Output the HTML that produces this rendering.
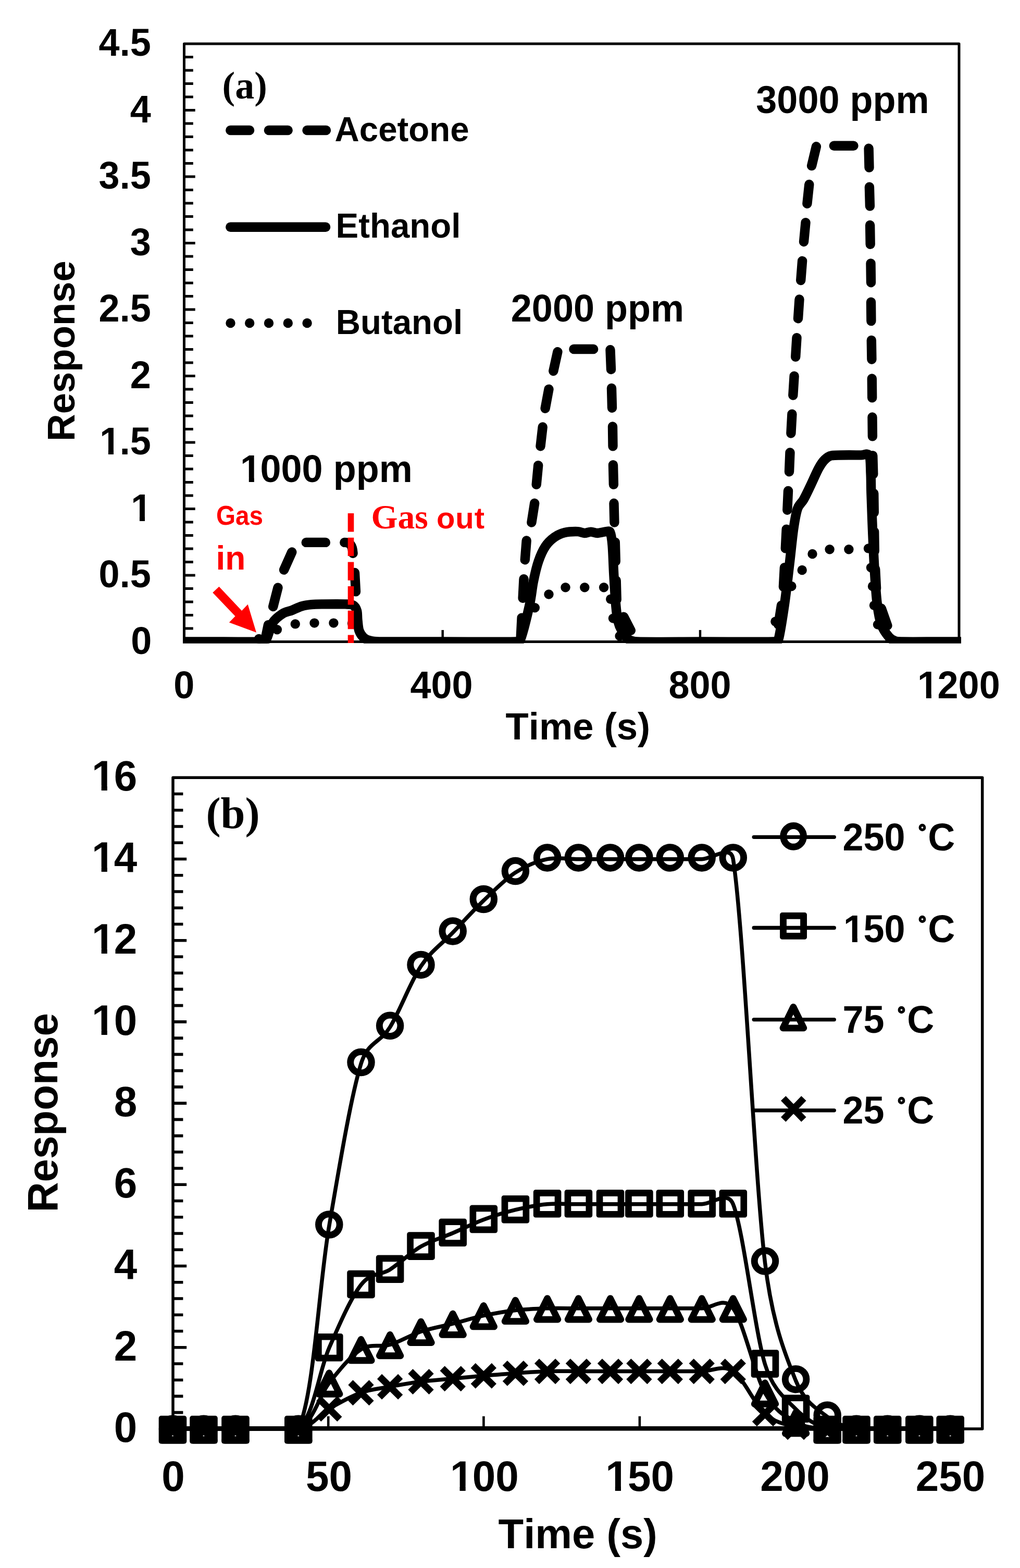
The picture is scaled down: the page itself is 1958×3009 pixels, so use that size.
<!DOCTYPE html>
<html lang="en"><head><meta charset="utf-8"><title>Gas sensor response</title>
<style>html,body{margin:0;padding:0;background:#fff;}body{width:1958px;height:3009px;overflow:hidden;}svg{display:block;}text{white-space:pre;font-kerning:none;}</style>
</head><body>
<svg width="1958" height="3009" viewBox="0 0 1958 3009">
<rect x="0" y="0" width="1958" height="3009" fill="#fff"/>
<defs><clipPath id="one"><path d="M-6,-90 H62 V-11.6 H37.3 V3 H23.1 V-11.6 H-6 Z"/></clipPath></defs>
<defs><clipPath id="clipA"><rect x="351" y="81.5" width="1494" height="1153.2"/></clipPath></defs>
<g id="chartA">
<rect x="353.5" y="84" width="1487.5" height="1147.5" fill="none" stroke="#000" stroke-width="5" stroke-linejoin="round"/>
<path d="M353.5,1206 H370.8 M353.5,1180.5 H370.8 M353.5,1155 H370.8 M353.5,1129.5 H370.8 M353.5,1104 H374.7 M353.5,1078.5 H370.8 M353.5,1053 H370.8 M353.5,1027.5 H370.8 M353.5,1002 H370.8 M353.5,976.5 H374.7 M353.5,951 H370.8 M353.5,925.5 H370.8 M353.5,900 H370.8 M353.5,874.5 H370.8 M353.5,849 H374.7 M353.5,823.5 H370.8 M353.5,798 H370.8 M353.5,772.5 H370.8 M353.5,747 H370.8 M353.5,721.5 H374.7 M353.5,696 H370.8 M353.5,670.5 H370.8 M353.5,645 H370.8 M353.5,619.5 H370.8 M353.5,594 H374.7 M353.5,568.5 H370.8 M353.5,543 H370.8 M353.5,517.5 H370.8 M353.5,492 H370.8 M353.5,466.5 H374.7 M353.5,441 H370.8 M353.5,415.5 H370.8 M353.5,390 H370.8 M353.5,364.5 H370.8 M353.5,339 H374.7 M353.5,313.5 H370.8 M353.5,288 H370.8 M353.5,262.5 H370.8 M353.5,237 H370.8 M353.5,211.5 H374.7 M353.5,186 H370.8 M353.5,160.5 H370.8 M353.5,135 H370.8 M353.5,109.5 H370.8" stroke="#000" stroke-width="5" fill="none"/>
<path d="M849.7,1231.5 V1209 M1344,1231.5 V1209" stroke="#000" stroke-width="4.4" fill="none"/>
<g transform="translate(251.16,1254.6) scale(1,1.03)"><text x="0" y="0" font-family='"Liberation Sans", sans-serif' font-size="72" font-weight="bold" fill="#000">0</text></g>
<g transform="translate(189.61,1127.1) scale(1,1.03)"><text x="0" y="0" font-family='"Liberation Sans", sans-serif' font-size="72" font-weight="bold" fill="#000">0.5</text></g>
<clipPath id="k1"><path clip-rule="evenodd" d="M-30,-93.6 H300.04 V43.2 H-30 Z M4.64,-8.36 H18.3 V4.32 H4.64 Z M28.38,-8.36 H41.14 V4.32 H28.38 Z"/></clipPath>
<g transform="translate(249.66,999.6) scale(1,1.03)"><text x="1.6" clip-path="url(#k1)" y="0" font-family='"Liberation Sans", sans-serif' font-size="72" font-weight="bold" fill="#000">1</text></g>
<clipPath id="k2"><path clip-rule="evenodd" d="M-30,-93.6 H360.09 V43.2 H-30 Z M4.64,-8.36 H18.3 V4.32 H4.64 Z M28.38,-8.36 H41.14 V4.32 H28.38 Z"/></clipPath>
<g transform="translate(189.61,872.1) scale(1,1.03)"><text x="1.6 40.04 60.05" clip-path="url(#k2)" y="0" font-family='"Liberation Sans", sans-serif' font-size="72" font-weight="bold" fill="#000">1.5</text></g>
<g transform="translate(249.66,744.6) scale(1,1.03)"><text x="0" y="0" font-family='"Liberation Sans", sans-serif' font-size="72" font-weight="bold" fill="#000">2</text></g>
<g transform="translate(189.61,617.1) scale(1,1.03)"><text x="0" y="0" font-family='"Liberation Sans", sans-serif' font-size="72" font-weight="bold" fill="#000">2.5</text></g>
<g transform="translate(249.66,489.6) scale(1,1.03)"><text x="0" y="0" font-family='"Liberation Sans", sans-serif' font-size="72" font-weight="bold" fill="#000">3</text></g>
<g transform="translate(189.61,362.1) scale(1,1.03)"><text x="0" y="0" font-family='"Liberation Sans", sans-serif' font-size="72" font-weight="bold" fill="#000">3.5</text></g>
<g transform="translate(249.66,234.6) scale(1,1.03)"><text x="0" y="0" font-family='"Liberation Sans", sans-serif' font-size="72" font-weight="bold" fill="#000">4</text></g>
<g transform="translate(189.61,107.1) scale(1,1.03)"><text x="0" y="0" font-family='"Liberation Sans", sans-serif' font-size="72" font-weight="bold" fill="#000">4.5</text></g>
<g transform="translate(333.28,1340.4) scale(1,1.03)"><text x="0" y="0" font-family='"Liberation Sans", sans-serif' font-size="72" font-weight="bold" fill="#000">0</text></g>
<g transform="translate(787.54,1340.4) scale(1,1.03)"><text x="0" y="0" font-family='"Liberation Sans", sans-serif' font-size="72" font-weight="bold" fill="#000">400</text></g>
<g transform="translate(1283.44,1340.4) scale(1,1.03)"><text x="0" y="0" font-family='"Liberation Sans", sans-serif' font-size="72" font-weight="bold" fill="#000">800</text></g>
<clipPath id="k3"><path clip-rule="evenodd" d="M-30,-93.6 H420.17 V43.2 H-30 Z M4.64,-8.36 H18.3 V4.32 H4.64 Z M28.38,-8.36 H41.14 V4.32 H28.38 Z"/></clipPath>
<g transform="translate(1759.51,1340.4) scale(1,1.03)"><text x="1.6 40.04 80.09 120.13" clip-path="url(#k3)" y="0" font-family='"Liberation Sans", sans-serif' font-size="72" font-weight="bold" fill="#000">1200</text></g>
<g transform="translate(970.61,1419.2) scale(1,1.01)"><text x="0" y="0" font-family='"Liberation Sans", sans-serif' font-size="72.4" font-weight="bold" fill="#000">Time (s)</text></g>
<g transform="translate(143,673.4) rotate(-90)">
<g transform="translate(-173.25,0) scale(1,1.01)"><text x="0" y="0" font-family='"Liberation Sans", sans-serif' font-size="72.5" font-weight="bold" fill="#000">Response</text></g>
</g>
<g clip-path="url(#clipA)" fill="none" stroke="#000" stroke-width="18.4" stroke-linecap="round" stroke-linejoin="round">
<path d="M353.5,1231.5 C353.5,1231.5 405.58,1231.5 430,1231.5 C454.42,1231.5 486.5,1232.15 500,1231.5 C504.66,1231.28 508.48,1231.53 511,1227.6 C514.9,1221.53 518.23,1203.37 523.4,1195.1 C528.57,1186.83 535.8,1182 542,1178 C548.2,1174 554.4,1173.55 560.6,1171.1 C566.8,1168.65 573,1165.12 579.2,1163.3 C585.4,1161.48 591.1,1160.85 597.8,1160.2 C604.5,1159.55 610.75,1159.51 619.4,1159.4 C630.23,1159.27 653.03,1159.05 662.8,1159.4 C668.93,1159.62 674.3,1159.4 678,1161.5 C681.7,1163.6 683.58,1167.18 685,1172 C686.42,1176.82 685.75,1183.97 686.5,1190.4 C687.25,1196.83 687.58,1205.08 689.5,1210.6 C691.42,1216.12 694.52,1220.35 698,1223.5 C701.48,1226.65 705.4,1228.17 710.4,1229.5 C715.4,1230.83 720.92,1231.4 728,1231.5 C751.27,1231.83 806.33,1231.5 850,1231.5 C893.67,1231.5 965.22,1232.03 990,1231.5 C993.71,1231.42 997.39,1231.77 998.7,1228.3 C1003.07,1216.78 1012,1181.13 1016.2,1162.4 C1020.32,1144 1021,1130.1 1023.9,1115.9 C1026.8,1101.7 1029.72,1088.5 1033.6,1077.2 C1037.48,1065.9 1042.03,1055.85 1047.2,1048.1 C1052.37,1040.35 1058.47,1035.05 1064.6,1030.7 C1070.73,1026.35 1076.58,1023.77 1084,1022 C1091.42,1020.23 1102.82,1019.93 1109.1,1020.1 C1114.27,1020.24 1117.5,1022.92 1121.7,1023 C1125.9,1023.08 1130.1,1020.6 1134.3,1020.6 C1138.5,1020.6 1142.05,1023.08 1146.9,1023 C1151.75,1022.92 1159.37,1020.43 1163.4,1020.1 C1166.49,1019.84 1169.8,1018.19 1171.1,1021 C1173.12,1025.35 1174.61,1036.01 1175.5,1046.2 C1176.72,1060.08 1177.27,1084.93 1178.4,1104.3 C1179.53,1123.67 1181,1147.87 1182.3,1162.4 C1183.35,1174.1 1184.27,1183.43 1186.2,1191.5 C1188.13,1199.57 1190.68,1205 1193.9,1210.8 C1197.12,1216.6 1200.57,1222.85 1205.5,1226.3 C1210.43,1229.75 1216.01,1231.23 1223.5,1231.5 C1247.58,1232.37 1306.42,1231.5 1350,1231.5 C1393.58,1231.5 1460.97,1232.13 1485,1231.5 C1488.98,1231.4 1493.08,1231.52 1494.2,1227.7 C1497.68,1215.77 1502.35,1184.12 1505.9,1159.9 C1509.45,1135.68 1512.6,1106.62 1515.5,1082.4 C1518.4,1058.18 1520.72,1032.35 1523.3,1014.6 C1525.57,998.98 1527.77,985.25 1531,975.9 C1533.74,967.97 1538.57,965.8 1542.7,958.5 C1546.9,951.07 1551.37,941.32 1556.2,931.3 C1561.03,921.28 1567.18,906.62 1571.7,898.4 C1575.57,891.36 1579.1,886.03 1583.3,882 C1587.5,877.97 1590.68,874.97 1596.9,874.2 C1608.52,872.77 1641.07,873.4 1653,873.4 C1659.21,873.4 1665.58,868.72 1668.5,874.2 C1671.58,879.98 1670.85,896 1671.5,908.1 C1672.15,920.2 1671.89,931.32 1672.4,946.8 C1673.03,966.17 1674.17,998.47 1675.3,1024.3 C1676.43,1050.13 1677.75,1079.2 1679.2,1101.8 C1680.65,1124.4 1681.9,1143.77 1684,1159.9 C1686.04,1175.56 1688.05,1188.17 1691.8,1198.6 C1695.55,1209.03 1702.13,1217.27 1706.5,1222.5 C1710.02,1226.72 1713.75,1228.5 1718,1230 C1722.25,1231.5 1726.37,1231.4 1732,1231.5 C1745.67,1231.75 1781,1231.5 1800,1231.5 C1818.4,1231.5 1846,1231.5 1846,1231.5"/>
<path d="M505,1231 L509.4,1226.1 M509.4,1226.1 L514.9,1199.3 M524.2,1164.1 L533.5,1127.7 M545.1,1093.6 L560.3,1059.5 M587.7,1040.9 L624.9,1040.9 M681,1099 L683,1135.4 M1029.7,929.9 L1033.2,893.1 M1037.5,856.3 L1041.7,819.5 M1046.6,783.7 L1053.5,746.9 M1062.3,712 L1070.4,675.2 M1101.4,670 L1139.2,670 M1171.5,671.3 L1173,709.1 M1174,744.9 L1175,782.7 M1176,818.5 L1176.5,856.3 M1177,892.1 L1177.9,929.9 M1026.2,965.8 L1020.4,1002.6 M1010.7,1037.5 L1007.8,1074.3 M1005.5,1111.1 L1003.6,1147.9 M1001.6,1185.7 L999.7,1222.5 M1178.5,965.8 L1179.4,1002.6 M1180.8,1040.4 L1181.8,1077.2 M1182.7,1114 L1183.7,1150.8 M1197.3,1183.7 L1210.8,1209.9 M1566.9,281.3 L1558.1,318.1 M1553.3,354 L1549.4,390.8 M1546.5,427.2 L1543,464 M1540.1,500.8 L1537.2,538 M1600.8,279.8 L1638.5,279.8 M1667.6,284.8 L1668.5,321.6 M1668.9,358.8 L1669.9,395.6 M1670.1,432 L1670.7,468.8 M1671.5,505.4 L1672,542.2 M1534.5,574.5 L1532,611.3 M1529.5,648.1 L1527.2,684.9 M1524.6,721.7 L1522.3,758.5 M1520.4,794.7 L1518.4,831.5 M1672,579.7 L1672.4,616.1 M1672.8,652.9 L1673.4,689.7 M1673.8,726.5 L1674.2,763.3 M1674.5,800.5 L1674.9,837.3 M1516.5,868.4 L1515,905.2 M1513,942 L1511.3,978.8 M1509.7,1015.6 L1507.8,1052.4 M1505.9,1089.2 L1503.9,1126 M1500,1161.8 L1494.2,1198.6 M1675.3,874.2 L1676.3,910 M1677.3,946.8 L1677.8,983.6 M1678.2,1020.4 L1678.8,1057.2 M1680.2,1092.1 L1682.1,1128.9 M1691.8,1167.6 L1703.4,1200.6 M661.3,1040.9 C672,1040.9 676.5,1046 677.6,1061.8"/>
</g>
<g fill="#000" clip-path="url(#clipA)">
<circle cx="531.9" cy="1208.3" r="9.2"/>
<circle cx="566.8" cy="1197.4" r="9.2"/>
<circle cx="603.5" cy="1195.6" r="9.2"/>
<circle cx="640.4" cy="1195.6" r="9.2"/>
<circle cx="676" cy="1196" r="9.2"/>
<circle cx="1026.8" cy="1166.3" r="9.2"/>
<circle cx="1053.5" cy="1140.5" r="9.2"/>
<circle cx="1085.5" cy="1127.2" r="9.2"/>
<circle cx="1122.3" cy="1127.2" r="9.2"/>
<circle cx="1159.1" cy="1127.2" r="9.2"/>
<circle cx="1172.2" cy="1149.8" r="9.2"/>
<circle cx="1177" cy="1186.6" r="9.2"/>
<circle cx="1189.6" cy="1220.5" r="9.2"/>
<circle cx="1488.4" cy="1192.8" r="9.2"/>
<circle cx="1519.4" cy="1125" r="9.2"/>
<circle cx="1539.7" cy="1094" r="9.2"/>
<circle cx="1559.5" cy="1063" r="9.2"/>
<circle cx="1592.6" cy="1054.3" r="9.2"/>
<circle cx="1629.4" cy="1054.3" r="9.2"/>
<circle cx="1667" cy="1052.4" r="9.2"/>
<circle cx="1672" cy="1089.2" r="9.2"/>
<circle cx="1675" cy="1125" r="9.2"/>
<circle cx="1678" cy="1161.8" r="9.2"/>
<circle cx="1685" cy="1198.6" r="9.2"/>
<circle cx="497" cy="1226" r="9.2"/>
</g>
<g fill="none" stroke="#000" stroke-width="18.4" stroke-linecap="round">
<path d="M442.3,250 H626" stroke-dasharray="36.8 36.8"/>
<path d="M442.3,435.7 H625.1"/>
</g>
<g fill="#000">
<circle cx="442.5" cy="620" r="9.2"/>
<circle cx="479.2" cy="620" r="9.2"/>
<circle cx="516" cy="620" r="9.2"/>
<circle cx="552.8" cy="620" r="9.2"/>
<circle cx="589.6" cy="620" r="9.2"/>
</g>
<g transform="translate(642.6,271.1) scale(1,1.01)"><text x="0" y="0" font-family='"Liberation Sans", sans-serif' font-size="65.4" font-weight="bold" fill="#000">Acetone</text></g>
<g transform="translate(644.6,456.3) scale(1,1.01)"><text x="0" y="0" font-family='"Liberation Sans", sans-serif' font-size="65.4" font-weight="bold" fill="#000">Ethanol</text></g>
<g transform="translate(644.8,640.6) scale(1,1.01)"><text x="0" y="0" font-family='"Liberation Sans", sans-serif' font-size="65.4" font-weight="bold" fill="#000">Butanol</text></g>
<text x="426.5" y="188.6" font-family='"Liberation Serif", serif' font-size="74" font-weight="bold" text-anchor="start" fill="#000">(a)</text>
<g transform="translate(1451.3,216.6) scale(1,1.02)"><text x="0" y="0" font-family='"Liberation Sans", sans-serif' font-size="72" font-weight="bold" fill="#000">3000 ppm</text></g>
<g transform="translate(980.8,616.9) scale(1,1.02)"><text x="0" y="0" font-family='"Liberation Sans", sans-serif' font-size="72" font-weight="bold" fill="#000">2000 ppm</text></g>
<clipPath id="k4"><path clip-rule="evenodd" d="M-30,-93.6 H592.16 V43.2 H-30 Z M4.64,-8.36 H18.3 V4.32 H4.64 Z M28.38,-8.36 H41.14 V4.32 H28.38 Z"/></clipPath>
<g transform="translate(459.5,925.3) scale(1,1.02)"><text x="1.6 40.04 80.09 120.13 160.17 180.18 224.16 268.14" clip-path="url(#k4)" y="0" font-family='"Liberation Sans", sans-serif' font-size="72" font-weight="bold" fill="#000">1000 ppm</text></g>
<path d="M673.5,985 V1234" stroke="#ff0000" stroke-width="11.6" stroke-dasharray="35.4 11.3" fill="none"/>
<polygon points="420.5,1125.8 464.1,1171.9 475.7,1159.8 492,1213.7 439.9,1194.4 451.5,1182.4 408.3,1137.2" fill="#ff0000"/>
<text x="415" y="1007.4" font-family='"Liberation Sans", sans-serif' font-size="51.5" font-weight="bold" text-anchor="start" fill="#ff0000" textLength="90" lengthAdjust="spacingAndGlyphs">Gas</text>
<g transform="translate(414.5,1092.7) scale(1,1.01)"><text x="0" y="0" font-family='"Liberation Sans", sans-serif' font-size="64" font-weight="bold" fill="#ff0000">in</text></g>
<text x="712.5" y="1013.6" font-weight="bold" fill="#ff0000"><tspan font-family='"Liberation Serif", serif' font-size="65.5">Gas </tspan><tspan x="838" font-family='"Liberation Sans", sans-serif' font-size="58" letter-spacing="0.9">out</tspan></text>
</g>
<defs><clipPath id="clipB"><rect x="329" y="1489" width="1560" height="1256.8"/></clipPath></defs>
<g id="chartB">
<rect x="332" y="1492.3" width="1553.7" height="1249.6" fill="none" stroke="#000" stroke-width="5.5" stroke-linejoin="round"/>
<path d="M332,2710.66 H351.4 M332,2679.42 H351.4 M332,2648.18 H351.4 M332,2616.94 H351.4 M332,2585.7 H358.2 M332,2554.46 H351.4 M332,2523.22 H351.4 M332,2491.98 H351.4 M332,2460.74 H351.4 M332,2429.5 H358.2 M332,2398.26 H351.4 M332,2367.02 H351.4 M332,2335.78 H351.4 M332,2304.54 H351.4 M332,2273.3 H358.2 M332,2242.06 H351.4 M332,2210.82 H351.4 M332,2179.58 H351.4 M332,2148.34 H351.4 M332,2117.1 H358.2 M332,2085.86 H351.4 M332,2054.62 H351.4 M332,2023.38 H351.4 M332,1992.14 H351.4 M332,1960.9 H358.2 M332,1929.66 H351.4 M332,1898.42 H351.4 M332,1867.18 H351.4 M332,1835.94 H351.4 M332,1804.7 H358.2 M332,1773.46 H351.4 M332,1742.22 H351.4 M332,1710.98 H351.4 M332,1679.74 H351.4 M332,1648.5 H358.2 M332,1617.26 H351.4 M332,1586.02 H351.4 M332,1554.78 H351.4 M332,1523.54 H351.4" stroke="#000" stroke-width="5.6" fill="none"/>
<path d="M630.2,2741.9 V2717.7 M928.4,2741.9 V2717.7 M1227.9,2741.9 V2717.7 M1526.5,2741.9 V2717.7 M1824.5,2741.9 V2717.7" stroke="#000" stroke-width="4.6" fill="none"/>
<g transform="translate(218.81,2766.7) scale(1,1.03)"><text x="0" y="0" font-family='"Liberation Sans", sans-serif' font-size="80" font-weight="bold" fill="#000">0</text></g>
<g transform="translate(218.81,2610.5) scale(1,1.03)"><text x="0" y="0" font-family='"Liberation Sans", sans-serif' font-size="80" font-weight="bold" fill="#000">2</text></g>
<g transform="translate(218.81,2454.3) scale(1,1.03)"><text x="0" y="0" font-family='"Liberation Sans", sans-serif' font-size="80" font-weight="bold" fill="#000">4</text></g>
<g transform="translate(218.81,2298.1) scale(1,1.03)"><text x="0" y="0" font-family='"Liberation Sans", sans-serif' font-size="80" font-weight="bold" fill="#000">6</text></g>
<g transform="translate(218.81,2141.9) scale(1,1.03)"><text x="0" y="0" font-family='"Liberation Sans", sans-serif' font-size="80" font-weight="bold" fill="#000">8</text></g>
<clipPath id="k5"><path clip-rule="evenodd" d="M-30,-104 H348.98 V48 H-30 Z M5.32,-9.28 H20.35 V4.8 H5.32 Z M31.53,-9.28 H45.54 V4.8 H31.53 Z"/></clipPath>
<g transform="translate(174.32,1985.7) scale(1,1.03)"><text x="1.78 44.49" clip-path="url(#k5)" y="0" font-family='"Liberation Sans", sans-serif' font-size="80" font-weight="bold" fill="#000">10</text></g>
<clipPath id="k6"><path clip-rule="evenodd" d="M-30,-104 H348.98 V48 H-30 Z M5.32,-9.28 H20.35 V4.8 H5.32 Z M31.53,-9.28 H45.54 V4.8 H31.53 Z"/></clipPath>
<g transform="translate(174.32,1829.5) scale(1,1.03)"><text x="1.78 44.49" clip-path="url(#k6)" y="0" font-family='"Liberation Sans", sans-serif' font-size="80" font-weight="bold" fill="#000">12</text></g>
<clipPath id="k7"><path clip-rule="evenodd" d="M-30,-104 H348.98 V48 H-30 Z M5.32,-9.28 H20.35 V4.8 H5.32 Z M31.53,-9.28 H45.54 V4.8 H31.53 Z"/></clipPath>
<g transform="translate(174.32,1673.3) scale(1,1.03)"><text x="1.78 44.49" clip-path="url(#k7)" y="0" font-family='"Liberation Sans", sans-serif' font-size="80" font-weight="bold" fill="#000">14</text></g>
<clipPath id="k8"><path clip-rule="evenodd" d="M-30,-104 H348.98 V48 H-30 Z M5.32,-9.28 H20.35 V4.8 H5.32 Z M31.53,-9.28 H45.54 V4.8 H31.53 Z"/></clipPath>
<g transform="translate(174.32,1517.1) scale(1,1.03)"><text x="1.78 44.49" clip-path="url(#k8)" y="0" font-family='"Liberation Sans", sans-serif' font-size="80" font-weight="bold" fill="#000">16</text></g>
<g transform="translate(310.35,2861.2) scale(1,1.03)"><text x="0" y="0" font-family='"Liberation Sans", sans-serif' font-size="80" font-weight="bold" fill="#000">0</text></g>
<g transform="translate(586.91,2861.2) scale(1,1.03)"><text x="0" y="0" font-family='"Liberation Sans", sans-serif' font-size="80" font-weight="bold" fill="#000">50</text></g>
<clipPath id="k9"><path clip-rule="evenodd" d="M-30,-104 H393.48 V48 H-30 Z M5.32,-9.28 H20.35 V4.8 H5.32 Z M31.53,-9.28 H45.54 V4.8 H31.53 Z"/></clipPath>
<g transform="translate(862.16,2861.2) scale(1,1.03)"><text x="1.78 44.49 88.98" clip-path="url(#k9)" y="0" font-family='"Liberation Sans", sans-serif' font-size="80" font-weight="bold" fill="#000">100</text></g>
<clipPath id="k10"><path clip-rule="evenodd" d="M-30,-104 H393.48 V48 H-30 Z M5.32,-9.28 H20.35 V4.8 H5.32 Z M31.53,-9.28 H45.54 V4.8 H31.53 Z"/></clipPath>
<g transform="translate(1160.46,2861.2) scale(1,1.03)"><text x="1.78 44.49 88.98" clip-path="url(#k10)" y="0" font-family='"Liberation Sans", sans-serif' font-size="80" font-weight="bold" fill="#000">150</text></g>
<g transform="translate(1459.36,2861.2) scale(1,1.03)"><text x="0" y="0" font-family='"Liberation Sans", sans-serif' font-size="80" font-weight="bold" fill="#000">200</text></g>
<g transform="translate(1757.86,2861.2) scale(1,1.03)"><text x="0" y="0" font-family='"Liberation Sans", sans-serif' font-size="80" font-weight="bold" fill="#000">250</text></g>
<g transform="translate(956.61,2970.9) scale(1,1.01)"><text x="0" y="0" font-family='"Liberation Sans", sans-serif' font-size="79.6" font-weight="bold" fill="#000">Time (s)</text></g>
<g transform="translate(110,2135.2) rotate(-90)">
<g transform="translate(-191.17,0) scale(1,1.01)"><text x="0" y="0" font-family='"Liberation Sans", sans-serif' font-size="80" font-weight="bold" fill="#000">Response</text></g>
</g>
<text x="395.4" y="1589" font-family='"Liberation Serif", serif' font-size="84.5" font-weight="bold" text-anchor="start" fill="#000">(b)</text>
<g fill="none" stroke="#000" stroke-width="7.5" stroke-linecap="round" stroke-linejoin="round">
<g clip-path="url(#clipB)">
<path d="M331.5,2742 C331.5,2742 370.92,2742 391,2742 C411.08,2742 421.7,2742 452,2742 C482.3,2742 547.47,2796.83 572.8,2742 C602.77,2677.13 611.77,2469.57 631.8,2352.8 C651.83,2236.03 673.53,2105.02 693,2041.4 C706.11,1998.55 729.43,2002.3 748.6,1971.1 C767.77,1939.9 787.9,1884.43 808,1854.2 C828.1,1823.97 849.15,1810.68 869.2,1789.7 C889.25,1768.72 908.27,1747.52 928.3,1728.3 C948.33,1709.08 969.02,1687.67 989.4,1674.4 C1009.78,1661.13 1030.43,1652.98 1050.6,1648.7 C1070.77,1644.42 1090.25,1648.7 1110.4,1648.7 C1130.55,1648.7 1152.08,1648.7 1171.5,1648.7 C1190.92,1648.7 1207.77,1648.7 1226.9,1648.7 C1246.03,1648.7 1266.25,1648.7 1286.3,1648.7 C1306.35,1648.7 1327.03,1648.7 1347.2,1648.7 C1367.37,1648.7 1402.65,1619.01 1407.3,1648.7 C1427.52,1777.73 1448.45,2256.1 1468.5,2422.9 C1482.47,2539.15 1507.65,2600.17 1527.6,2649.5 C1544.87,2692.21 1568.8,2703.48 1588.2,2718.9 C1607.6,2734.32 1624.75,2738.15 1644,2742 C1663.25,2745.85 1683.57,2742 1703.7,2742 C1723.83,2742 1744.72,2742 1764.8,2742 C1784.88,2742 1824.2,2742 1824.2,2742"/>
<path d="M331.5,2742 C331.5,2742 370.92,2742 391,2742 C411.08,2742 421.7,2742 452,2742 C482.3,2742 542.83,2767.88 572.8,2742 C602.77,2716.12 611.77,2632.77 631.8,2586.7 C651.83,2540.63 673.53,2490.67 693,2465.6 C712.27,2440.78 729.43,2448.55 748.6,2436.3 C767.77,2424.05 787.9,2403.78 808,2392.1 C828.1,2380.42 849.15,2374.82 869.2,2366.2 C889.25,2357.58 908.27,2347.82 928.3,2340.4 C948.33,2332.98 969.02,2326.63 989.4,2321.7 C1009.78,2316.77 1030.43,2312.62 1050.6,2310.8 C1070.77,2308.98 1090.25,2310.8 1110.4,2310.8 C1130.55,2310.8 1152.08,2310.8 1171.5,2310.8 C1190.92,2310.8 1207.77,2310.8 1226.9,2310.8 C1246.03,2310.8 1266.25,2310.8 1286.3,2310.8 C1306.35,2310.8 1327.03,2310.8 1347.2,2310.8 C1367.37,2310.8 1396.26,2282.85 1407.3,2310.8 C1427.52,2362 1448.45,2552.43 1468.5,2618 C1483.78,2667.97 1507.65,2683.53 1527.6,2704.2 C1547.55,2724.87 1568.8,2735.7 1588.2,2742 C1607.6,2748.3 1624.75,2742 1644,2742 C1663.25,2742 1683.57,2742 1703.7,2742 C1723.83,2742 1744.72,2742 1764.8,2742 C1784.88,2742 1824.2,2742 1824.2,2742"/>
<path d="M331.5,2742 C331.5,2742 370.92,2742 391,2742 C411.08,2742 421.7,2742 452,2742 C482.3,2742 542.83,2756.67 572.8,2742 C602.77,2727.33 611.77,2679.42 631.8,2654 C651.83,2628.58 673.53,2601.75 693,2589.5 C712.47,2577.25 729.43,2586.2 748.6,2580.5 C767.77,2574.8 787.9,2562.02 808,2555.3 C828.1,2548.58 849.15,2545.3 869.2,2540.2 C889.25,2535.1 908.27,2529 928.3,2524.7 C948.33,2520.4 969.02,2516.72 989.4,2514.4 C1009.78,2512.08 1030.43,2511.4 1050.6,2510.8 C1070.77,2510.2 1090.25,2510.8 1110.4,2510.8 C1130.55,2510.8 1152.08,2510.8 1171.5,2510.8 C1190.92,2510.8 1207.77,2510.8 1226.9,2510.8 C1246.03,2510.8 1266.25,2510.8 1286.3,2510.8 C1306.35,2510.8 1327.03,2510.8 1347.2,2510.8 C1367.37,2510.8 1389.3,2486.74 1407.3,2510.8 C1427.52,2537.83 1448.45,2636.53 1468.5,2673 C1488.21,2708.85 1507.65,2718.1 1527.6,2729.6 C1547.55,2741.1 1568.8,2739.93 1588.2,2742 C1607.6,2744.07 1624.75,2742 1644,2742 C1663.25,2742 1683.57,2742 1703.7,2742 C1723.83,2742 1744.72,2742 1764.8,2742 C1784.88,2742 1824.2,2742 1824.2,2742"/>
<path d="M331.5,2742 C331.5,2742 370.92,2742 391,2742 C411.08,2742 421.7,2742 452,2742 C482.3,2742 542.83,2748.45 572.8,2742 C602.77,2735.55 611.77,2714.87 631.8,2703.3 C651.83,2691.73 673.53,2679.63 693,2672.6 C712.47,2665.57 729.43,2664.65 748.6,2661.1 C767.77,2657.55 787.9,2653.9 808,2651.3 C828.1,2648.7 849.15,2647.37 869.2,2645.5 C889.25,2643.63 908.27,2641.82 928.3,2640.1 C948.33,2638.38 969.02,2636.63 989.4,2635.2 C1009.78,2633.77 1030.43,2632.12 1050.6,2631.5 C1070.77,2630.88 1090.25,2631.5 1110.4,2631.5 C1130.55,2631.5 1152.08,2631.5 1171.5,2631.5 C1190.92,2631.5 1207.77,2631.5 1226.9,2631.5 C1246.03,2631.5 1266.25,2631.5 1286.3,2631.5 C1306.35,2631.5 1327.03,2631.5 1347.2,2631.5 C1367.37,2631.5 1387.08,2617.97 1407.3,2631.5 C1427.52,2645.03 1448.45,2694.87 1468.5,2712.7 C1488.55,2730.53 1507.65,2733.62 1527.6,2738.5 C1547.55,2743.38 1568.8,2741.42 1588.2,2742 C1607.6,2742.58 1624.75,2742 1644,2742 C1663.25,2742 1683.57,2742 1703.7,2742 C1723.83,2742 1744.72,2742 1764.8,2742 C1784.88,2742 1824.2,2742 1824.2,2742"/>
<path d="M332,2741.4 H1824" stroke-width="8.8" stroke-linecap="butt"/>
</g>
<path d="M1447.2,1606.3 H1601.3" stroke-width="7.3"/>
<path d="M1447.2,1780.5 H1601.3" stroke-width="7.3"/>
<path d="M1447.2,1956.6 H1601.3" stroke-width="7.3"/>
<path d="M1447.2,2130.8 H1601.3" stroke-width="7.3"/>
</g>
<g fill="none" stroke="#000" stroke-width="12.8" stroke-linejoin="round">
<ellipse cx="331.5" cy="2742.3" rx="20.3" ry="20.3" stroke-width="12.9"/>
<ellipse cx="391" cy="2742.3" rx="20.3" ry="20.3" stroke-width="12.9"/>
<ellipse cx="452" cy="2742.3" rx="20.3" ry="20.3" stroke-width="12.9"/>
<ellipse cx="572.8" cy="2742.3" rx="20.3" ry="20.3" stroke-width="12.9"/>
<ellipse cx="631.8" cy="2350" rx="20.3" ry="20.3" stroke-width="12.9"/>
<ellipse cx="693" cy="2038.6" rx="20.3" ry="20.3" stroke-width="12.9"/>
<ellipse cx="748.6" cy="1968.3" rx="20.3" ry="20.3" stroke-width="12.9"/>
<ellipse cx="808" cy="1851.4" rx="20.3" ry="20.3" stroke-width="12.9"/>
<ellipse cx="869.2" cy="1786.9" rx="20.3" ry="20.3" stroke-width="12.9"/>
<ellipse cx="928.3" cy="1725.5" rx="20.3" ry="20.3" stroke-width="12.9"/>
<ellipse cx="989.4" cy="1671.6" rx="20.3" ry="20.3" stroke-width="12.9"/>
<ellipse cx="1050.6" cy="1645.9" rx="20.3" ry="20.3" stroke-width="12.9"/>
<ellipse cx="1110.4" cy="1645.9" rx="20.3" ry="20.3" stroke-width="12.9"/>
<ellipse cx="1171.5" cy="1645.9" rx="20.3" ry="20.3" stroke-width="12.9"/>
<ellipse cx="1226.9" cy="1645.9" rx="20.3" ry="20.3" stroke-width="12.9"/>
<ellipse cx="1286.3" cy="1645.9" rx="20.3" ry="20.3" stroke-width="12.9"/>
<ellipse cx="1347.2" cy="1645.9" rx="20.3" ry="20.3" stroke-width="12.9"/>
<ellipse cx="1407.3" cy="1645.9" rx="20.3" ry="20.3" stroke-width="12.9"/>
<ellipse cx="1468.5" cy="2420.1" rx="20.3" ry="20.3" stroke-width="12.9"/>
<ellipse cx="1527.6" cy="2646.7" rx="20.3" ry="20.3" stroke-width="12.9"/>
<ellipse cx="1588.2" cy="2716.1" rx="20.3" ry="20.3" stroke-width="12.9"/>
<ellipse cx="1644" cy="2742.3" rx="20.3" ry="20.3" stroke-width="12.9"/>
<ellipse cx="1703.7" cy="2742.3" rx="20.3" ry="20.3" stroke-width="12.9"/>
<ellipse cx="1764.8" cy="2742.3" rx="20.3" ry="20.3" stroke-width="12.9"/>
<ellipse cx="1824.2" cy="2742.3" rx="20.3" ry="20.3" stroke-width="12.9"/>
<path fill="#000" stroke="none" fill-rule="evenodd" d="M309.1,2716.85 h44.8 a4.4,4.4 0 0 1 4.4,4.4 v44.8 a4.4,4.4 0 0 1 -4.4,4.4 h-44.8 a4.4,4.4 0 0 1 -4.4,-4.4 v-44.8 a4.4,4.4 0 0 1 4.4,-4.4 z M317.4,2729.55 h28.2 v28.2 h-28.2 z"/>
<path fill="#000" stroke="none" fill-rule="evenodd" d="M368.6,2716.85 h44.8 a4.4,4.4 0 0 1 4.4,4.4 v44.8 a4.4,4.4 0 0 1 -4.4,4.4 h-44.8 a4.4,4.4 0 0 1 -4.4,-4.4 v-44.8 a4.4,4.4 0 0 1 4.4,-4.4 z M376.9,2729.55 h28.2 v28.2 h-28.2 z"/>
<path fill="#000" stroke="none" fill-rule="evenodd" d="M429.6,2716.85 h44.8 a4.4,4.4 0 0 1 4.4,4.4 v44.8 a4.4,4.4 0 0 1 -4.4,4.4 h-44.8 a4.4,4.4 0 0 1 -4.4,-4.4 v-44.8 a4.4,4.4 0 0 1 4.4,-4.4 z M437.9,2729.55 h28.2 v28.2 h-28.2 z"/>
<path fill="#000" stroke="none" fill-rule="evenodd" d="M550.4,2716.85 h44.8 a4.4,4.4 0 0 1 4.4,4.4 v44.8 a4.4,4.4 0 0 1 -4.4,4.4 h-44.8 a4.4,4.4 0 0 1 -4.4,-4.4 v-44.8 a4.4,4.4 0 0 1 4.4,-4.4 z M558.7,2729.55 h28.2 v28.2 h-28.2 z"/>
<path fill="#000" stroke="none" fill-rule="evenodd" d="M609.4,2558.9 h44.8 a4.4,4.4 0 0 1 4.4,4.4 v44.8 a4.4,4.4 0 0 1 -4.4,4.4 h-44.8 a4.4,4.4 0 0 1 -4.4,-4.4 v-44.8 a4.4,4.4 0 0 1 4.4,-4.4 z M617.7,2571.6 h28.2 v28.2 h-28.2 z"/>
<path fill="#000" stroke="none" fill-rule="evenodd" d="M670.6,2437.8 h44.8 a4.4,4.4 0 0 1 4.4,4.4 v44.8 a4.4,4.4 0 0 1 -4.4,4.4 h-44.8 a4.4,4.4 0 0 1 -4.4,-4.4 v-44.8 a4.4,4.4 0 0 1 4.4,-4.4 z M678.9,2450.5 h28.2 v28.2 h-28.2 z"/>
<path fill="#000" stroke="none" fill-rule="evenodd" d="M726.2,2408.5 h44.8 a4.4,4.4 0 0 1 4.4,4.4 v44.8 a4.4,4.4 0 0 1 -4.4,4.4 h-44.8 a4.4,4.4 0 0 1 -4.4,-4.4 v-44.8 a4.4,4.4 0 0 1 4.4,-4.4 z M734.5,2421.2 h28.2 v28.2 h-28.2 z"/>
<path fill="#000" stroke="none" fill-rule="evenodd" d="M785.6,2364.3 h44.8 a4.4,4.4 0 0 1 4.4,4.4 v44.8 a4.4,4.4 0 0 1 -4.4,4.4 h-44.8 a4.4,4.4 0 0 1 -4.4,-4.4 v-44.8 a4.4,4.4 0 0 1 4.4,-4.4 z M793.9,2377 h28.2 v28.2 h-28.2 z"/>
<path fill="#000" stroke="none" fill-rule="evenodd" d="M846.8,2338.4 h44.8 a4.4,4.4 0 0 1 4.4,4.4 v44.8 a4.4,4.4 0 0 1 -4.4,4.4 h-44.8 a4.4,4.4 0 0 1 -4.4,-4.4 v-44.8 a4.4,4.4 0 0 1 4.4,-4.4 z M855.1,2351.1 h28.2 v28.2 h-28.2 z"/>
<path fill="#000" stroke="none" fill-rule="evenodd" d="M905.9,2312.6 h44.8 a4.4,4.4 0 0 1 4.4,4.4 v44.8 a4.4,4.4 0 0 1 -4.4,4.4 h-44.8 a4.4,4.4 0 0 1 -4.4,-4.4 v-44.8 a4.4,4.4 0 0 1 4.4,-4.4 z M914.2,2325.3 h28.2 v28.2 h-28.2 z"/>
<path fill="#000" stroke="none" fill-rule="evenodd" d="M967,2293.9 h44.8 a4.4,4.4 0 0 1 4.4,4.4 v44.8 a4.4,4.4 0 0 1 -4.4,4.4 h-44.8 a4.4,4.4 0 0 1 -4.4,-4.4 v-44.8 a4.4,4.4 0 0 1 4.4,-4.4 z M975.3,2306.6 h28.2 v28.2 h-28.2 z"/>
<path fill="#000" stroke="none" fill-rule="evenodd" d="M1028.2,2283 h44.8 a4.4,4.4 0 0 1 4.4,4.4 v44.8 a4.4,4.4 0 0 1 -4.4,4.4 h-44.8 a4.4,4.4 0 0 1 -4.4,-4.4 v-44.8 a4.4,4.4 0 0 1 4.4,-4.4 z M1036.5,2295.7 h28.2 v28.2 h-28.2 z"/>
<path fill="#000" stroke="none" fill-rule="evenodd" d="M1088,2283 h44.8 a4.4,4.4 0 0 1 4.4,4.4 v44.8 a4.4,4.4 0 0 1 -4.4,4.4 h-44.8 a4.4,4.4 0 0 1 -4.4,-4.4 v-44.8 a4.4,4.4 0 0 1 4.4,-4.4 z M1096.3,2295.7 h28.2 v28.2 h-28.2 z"/>
<path fill="#000" stroke="none" fill-rule="evenodd" d="M1149.1,2283 h44.8 a4.4,4.4 0 0 1 4.4,4.4 v44.8 a4.4,4.4 0 0 1 -4.4,4.4 h-44.8 a4.4,4.4 0 0 1 -4.4,-4.4 v-44.8 a4.4,4.4 0 0 1 4.4,-4.4 z M1157.4,2295.7 h28.2 v28.2 h-28.2 z"/>
<path fill="#000" stroke="none" fill-rule="evenodd" d="M1204.5,2283 h44.8 a4.4,4.4 0 0 1 4.4,4.4 v44.8 a4.4,4.4 0 0 1 -4.4,4.4 h-44.8 a4.4,4.4 0 0 1 -4.4,-4.4 v-44.8 a4.4,4.4 0 0 1 4.4,-4.4 z M1212.8,2295.7 h28.2 v28.2 h-28.2 z"/>
<path fill="#000" stroke="none" fill-rule="evenodd" d="M1263.9,2283 h44.8 a4.4,4.4 0 0 1 4.4,4.4 v44.8 a4.4,4.4 0 0 1 -4.4,4.4 h-44.8 a4.4,4.4 0 0 1 -4.4,-4.4 v-44.8 a4.4,4.4 0 0 1 4.4,-4.4 z M1272.2,2295.7 h28.2 v28.2 h-28.2 z"/>
<path fill="#000" stroke="none" fill-rule="evenodd" d="M1324.8,2283 h44.8 a4.4,4.4 0 0 1 4.4,4.4 v44.8 a4.4,4.4 0 0 1 -4.4,4.4 h-44.8 a4.4,4.4 0 0 1 -4.4,-4.4 v-44.8 a4.4,4.4 0 0 1 4.4,-4.4 z M1333.1,2295.7 h28.2 v28.2 h-28.2 z"/>
<path fill="#000" stroke="none" fill-rule="evenodd" d="M1384.9,2283 h44.8 a4.4,4.4 0 0 1 4.4,4.4 v44.8 a4.4,4.4 0 0 1 -4.4,4.4 h-44.8 a4.4,4.4 0 0 1 -4.4,-4.4 v-44.8 a4.4,4.4 0 0 1 4.4,-4.4 z M1393.2,2295.7 h28.2 v28.2 h-28.2 z"/>
<path fill="#000" stroke="none" fill-rule="evenodd" d="M1446.1,2590.2 h44.8 a4.4,4.4 0 0 1 4.4,4.4 v44.8 a4.4,4.4 0 0 1 -4.4,4.4 h-44.8 a4.4,4.4 0 0 1 -4.4,-4.4 v-44.8 a4.4,4.4 0 0 1 4.4,-4.4 z M1454.4,2602.9 h28.2 v28.2 h-28.2 z"/>
<path fill="#000" stroke="none" fill-rule="evenodd" d="M1505.2,2676.4 h44.8 a4.4,4.4 0 0 1 4.4,4.4 v44.8 a4.4,4.4 0 0 1 -4.4,4.4 h-44.8 a4.4,4.4 0 0 1 -4.4,-4.4 v-44.8 a4.4,4.4 0 0 1 4.4,-4.4 z M1513.5,2689.1 h28.2 v28.2 h-28.2 z"/>
<path fill="#000" stroke="none" fill-rule="evenodd" d="M1565.8,2716.85 h44.8 a4.4,4.4 0 0 1 4.4,4.4 v44.8 a4.4,4.4 0 0 1 -4.4,4.4 h-44.8 a4.4,4.4 0 0 1 -4.4,-4.4 v-44.8 a4.4,4.4 0 0 1 4.4,-4.4 z M1574.1,2729.55 h28.2 v28.2 h-28.2 z"/>
<path fill="#000" stroke="none" fill-rule="evenodd" d="M1621.6,2716.85 h44.8 a4.4,4.4 0 0 1 4.4,4.4 v44.8 a4.4,4.4 0 0 1 -4.4,4.4 h-44.8 a4.4,4.4 0 0 1 -4.4,-4.4 v-44.8 a4.4,4.4 0 0 1 4.4,-4.4 z M1629.9,2729.55 h28.2 v28.2 h-28.2 z"/>
<path fill="#000" stroke="none" fill-rule="evenodd" d="M1681.3,2716.85 h44.8 a4.4,4.4 0 0 1 4.4,4.4 v44.8 a4.4,4.4 0 0 1 -4.4,4.4 h-44.8 a4.4,4.4 0 0 1 -4.4,-4.4 v-44.8 a4.4,4.4 0 0 1 4.4,-4.4 z M1689.6,2729.55 h28.2 v28.2 h-28.2 z"/>
<path fill="#000" stroke="none" fill-rule="evenodd" d="M1742.4,2716.85 h44.8 a4.4,4.4 0 0 1 4.4,4.4 v44.8 a4.4,4.4 0 0 1 -4.4,4.4 h-44.8 a4.4,4.4 0 0 1 -4.4,-4.4 v-44.8 a4.4,4.4 0 0 1 4.4,-4.4 z M1750.7,2729.55 h28.2 v28.2 h-28.2 z"/>
<path fill="#000" stroke="none" fill-rule="evenodd" d="M1801.8,2716.85 h44.8 a4.4,4.4 0 0 1 4.4,4.4 v44.8 a4.4,4.4 0 0 1 -4.4,4.4 h-44.8 a4.4,4.4 0 0 1 -4.4,-4.4 v-44.8 a4.4,4.4 0 0 1 4.4,-4.4 z M1810.1,2729.55 h28.2 v28.2 h-28.2 z"/>
<path d="M331.5,2723.55 L351.75,2764.05 L311.25,2764.05 Z"/>
<path d="M391,2723.55 L411.25,2764.05 L370.75,2764.05 Z"/>
<path d="M452,2723.55 L472.25,2764.05 L431.75,2764.05 Z"/>
<path d="M572.8,2723.55 L593.05,2764.05 L552.55,2764.05 Z"/>
<path d="M631.8,2634.75 L652.05,2675.25 L611.55,2675.25 Z"/>
<path d="M693,2570.25 L713.25,2610.75 L672.75,2610.75 Z"/>
<path d="M748.6,2561.25 L768.85,2601.75 L728.35,2601.75 Z"/>
<path d="M808,2536.05 L828.25,2576.55 L787.75,2576.55 Z"/>
<path d="M869.2,2520.95 L889.45,2561.45 L848.95,2561.45 Z"/>
<path d="M928.3,2505.45 L948.55,2545.95 L908.05,2545.95 Z"/>
<path d="M989.4,2495.15 L1009.65,2535.65 L969.15,2535.65 Z"/>
<path d="M1050.6,2491.55 L1070.85,2532.05 L1030.35,2532.05 Z"/>
<path d="M1110.4,2491.55 L1130.65,2532.05 L1090.15,2532.05 Z"/>
<path d="M1171.5,2491.55 L1191.75,2532.05 L1151.25,2532.05 Z"/>
<path d="M1226.9,2491.55 L1247.15,2532.05 L1206.65,2532.05 Z"/>
<path d="M1286.3,2491.55 L1306.55,2532.05 L1266.05,2532.05 Z"/>
<path d="M1347.2,2491.55 L1367.45,2532.05 L1326.95,2532.05 Z"/>
<path d="M1407.3,2491.55 L1427.55,2532.05 L1387.05,2532.05 Z"/>
<path d="M1468.5,2653.75 L1488.75,2694.25 L1448.25,2694.25 Z"/>
<path d="M1527.6,2710.35 L1547.85,2750.85 L1507.35,2750.85 Z"/>
<path d="M1588.2,2723.55 L1608.45,2764.05 L1567.95,2764.05 Z"/>
<path d="M1644,2723.55 L1664.25,2764.05 L1623.75,2764.05 Z"/>
<path d="M1703.7,2723.55 L1723.95,2764.05 L1683.45,2764.05 Z"/>
<path d="M1764.8,2723.55 L1785.05,2764.05 L1744.55,2764.05 Z"/>
<path d="M1824.2,2723.55 L1844.45,2764.05 L1803.95,2764.05 Z"/>
<path d="M311.4,2725.2 L351.6,2764.8 M311.4,2764.8 L351.6,2725.2" stroke-linecap="butt" stroke-width="13"/>
<path d="M370.9,2725.2 L411.1,2764.8 M370.9,2764.8 L411.1,2725.2" stroke-linecap="butt" stroke-width="13"/>
<path d="M431.9,2725.2 L472.1,2764.8 M431.9,2764.8 L472.1,2725.2" stroke-linecap="butt" stroke-width="13"/>
<path d="M552.7,2725.2 L592.9,2764.8 M552.7,2764.8 L592.9,2725.2" stroke-linecap="butt" stroke-width="13"/>
<path d="M611.7,2683.7 L651.9,2723.3 M611.7,2723.3 L651.9,2683.7" stroke-linecap="butt" stroke-width="13"/>
<path d="M672.9,2653 L713.1,2692.6 M672.9,2692.6 L713.1,2653" stroke-linecap="butt" stroke-width="13"/>
<path d="M728.5,2641.5 L768.7,2681.1 M728.5,2681.1 L768.7,2641.5" stroke-linecap="butt" stroke-width="13"/>
<path d="M787.9,2631.7 L828.1,2671.3 M787.9,2671.3 L828.1,2631.7" stroke-linecap="butt" stroke-width="13"/>
<path d="M849.1,2625.9 L889.3,2665.5 M849.1,2665.5 L889.3,2625.9" stroke-linecap="butt" stroke-width="13"/>
<path d="M908.2,2620.5 L948.4,2660.1 M908.2,2660.1 L948.4,2620.5" stroke-linecap="butt" stroke-width="13"/>
<path d="M969.3,2615.6 L1009.5,2655.2 M969.3,2655.2 L1009.5,2615.6" stroke-linecap="butt" stroke-width="13"/>
<path d="M1030.5,2611.9 L1070.7,2651.5 M1030.5,2651.5 L1070.7,2611.9" stroke-linecap="butt" stroke-width="13"/>
<path d="M1090.3,2611.9 L1130.5,2651.5 M1090.3,2651.5 L1130.5,2611.9" stroke-linecap="butt" stroke-width="13"/>
<path d="M1151.4,2611.9 L1191.6,2651.5 M1151.4,2651.5 L1191.6,2611.9" stroke-linecap="butt" stroke-width="13"/>
<path d="M1206.8,2611.9 L1247,2651.5 M1206.8,2651.5 L1247,2611.9" stroke-linecap="butt" stroke-width="13"/>
<path d="M1266.2,2611.9 L1306.4,2651.5 M1266.2,2651.5 L1306.4,2611.9" stroke-linecap="butt" stroke-width="13"/>
<path d="M1327.1,2611.9 L1367.3,2651.5 M1327.1,2651.5 L1367.3,2611.9" stroke-linecap="butt" stroke-width="13"/>
<path d="M1387.2,2611.9 L1427.4,2651.5 M1387.2,2651.5 L1427.4,2611.9" stroke-linecap="butt" stroke-width="13"/>
<path d="M1448.4,2693.1 L1488.6,2732.7 M1448.4,2732.7 L1488.6,2693.1" stroke-linecap="butt" stroke-width="13"/>
<path d="M1507.5,2718.9 L1547.7,2758.5 M1507.5,2758.5 L1547.7,2718.9" stroke-linecap="butt" stroke-width="13"/>
<path d="M1568.1,2725.2 L1608.3,2764.8 M1568.1,2764.8 L1608.3,2725.2" stroke-linecap="butt" stroke-width="13"/>
<path d="M1623.9,2725.2 L1664.1,2764.8 M1623.9,2764.8 L1664.1,2725.2" stroke-linecap="butt" stroke-width="13"/>
<path d="M1683.6,2725.2 L1723.8,2764.8 M1683.6,2764.8 L1723.8,2725.2" stroke-linecap="butt" stroke-width="13"/>
<path d="M1744.7,2725.2 L1784.9,2764.8 M1744.7,2764.8 L1784.9,2725.2" stroke-linecap="butt" stroke-width="13"/>
<path d="M1804.1,2725.2 L1844.3,2764.8 M1804.1,2764.8 L1844.3,2725.2" stroke-linecap="butt" stroke-width="13"/>
<ellipse cx="1523.1" cy="1604.9" rx="19.35" ry="20.4" stroke-width="12.9"/>
<path fill="#000" stroke="none" fill-rule="evenodd" d="M1501.5,1750.95 h43.1 a4.4,4.4 0 0 1 4.4,4.4 v43.1 a4.4,4.4 0 0 1 -4.4,4.4 h-43.1 a4.4,4.4 0 0 1 -4.4,-4.4 v-43.1 a4.4,4.4 0 0 1 4.4,-4.4 z M1509.95,1763.8 h26.2 v26.2 h-26.2 z"/>
<path d="M1522.9,1932.4 L1542.8,1972.8 L1503,1972.8 Z"/>
<path d="M1503.7,2107.7 L1542.9,2148.3 M1503.7,2148.3 L1542.9,2107.7" stroke-linecap="butt" stroke-width="13"/>
</g>
<g transform="translate(1617.5,1632.3) scale(1,1.03)"><text x="0" y="0" font-family='"Liberation Sans", sans-serif' font-size="72" font-weight="bold" fill="#000">250 <tspan x="146.33" dy="-10.7" font-size="47" stroke="#000" stroke-width="2.2" stroke-linejoin="round">˚</tspan><tspan x="163.73" dy="10.7">C</tspan></text></g>
<clipPath id="k11"><path clip-rule="evenodd" d="M-30,-93.6 H400.13 V43.2 H-30 Z M4.64,-8.36 H18.3 V4.32 H4.64 Z M28.38,-8.36 H41.14 V4.32 H28.38 Z"/></clipPath>
<g transform="translate(1617.5,1808) scale(1,1.03)"><text x="1.6 40.04 80.09 120.13" clip-path="url(#k11)" y="0" font-family='"Liberation Sans", sans-serif' font-size="72" font-weight="bold" fill="#000">150 <tspan x="146.33" dy="-10.7" font-size="47" stroke="#000" stroke-width="2.2" stroke-linejoin="round">˚</tspan><tspan x="163.73" dy="10.7">C</tspan></text></g>
<g transform="translate(1617.5,1982.3) scale(1,1.03)"><text x="0" y="0" font-family='"Liberation Sans", sans-serif' font-size="72" font-weight="bold" fill="#000">75 <tspan x="106.29" dy="-10.7" font-size="47" stroke="#000" stroke-width="2.2" stroke-linejoin="round">˚</tspan><tspan x="123.69" dy="10.7">C</tspan></text></g>
<g transform="translate(1617.5,2156.4) scale(1,1.03)"><text x="0" y="0" font-family='"Liberation Sans", sans-serif' font-size="72" font-weight="bold" fill="#000">25 <tspan x="106.29" dy="-10.7" font-size="47" stroke="#000" stroke-width="2.2" stroke-linejoin="round">˚</tspan><tspan x="123.69" dy="10.7">C</tspan></text></g>
</g>
</svg></body></html>
